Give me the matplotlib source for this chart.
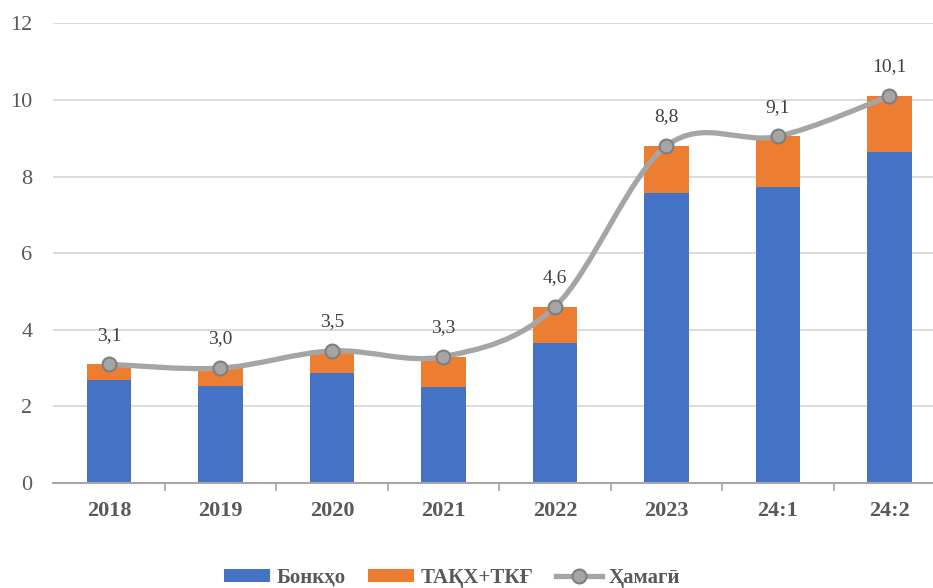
import matplotlib
matplotlib.use("Agg")
import matplotlib.pyplot as plt
from matplotlib.path import Path
from matplotlib.patches import PathPatch
from matplotlib.lines import Line2D
from matplotlib.patches import Patch
import numpy as np

categories = ["2018", "2019", "2020", "2021", "2022", "2023", "24:1", "24:2"]
banks = [2.69, 2.53, 2.87, 2.50, 3.65, 7.57, 7.73, 8.64]
others = [0.41, 0.47, 0.58, 0.80, 0.95, 1.23, 1.32, 1.46]
total = [3.1, 3.0, 3.45, 3.3, 4.6, 8.8, 9.05, 10.1]
total_labels = ["3,1", "3,0", "3,5", "3,3", "4,6", "8,8", "9,1", "10,1"]
yticks = [0, 2, 4, 6, 8, 10, 12]
legend_labels = ["Бонкҳо", "ТАҚХ+ТКҒ", "Ҳамагӣ"]

SERIF = ["Liberation Serif", "DejaVu Serif"]
plt.rcParams["font.family"] = SERIF

W, H = 933, 588
fig = plt.figure(figsize=(W / 100, H / 100), dpi=100)
left, right = 53.3, 945.0
top, bottom = 23.4, 483.0
ax = fig.add_axes([left / W, (H - bottom) / H, (right - left) / W, (bottom - top) / H])

x = np.arange(len(categories))
blue = "#4472C4"
orange = "#ED7D31"
gray = "#A5A5A5"

ax.bar(x, banks, width=0.40, color=blue, zorder=2)
ax.bar(x, others, width=0.40, bottom=banks, color=orange, zorder=2)

# smooth line (Catmull-Rom style Bezier through data points)
pts = np.column_stack([x, total]).astype(float)
n = len(pts)
verts = [pts[0]]
codes = [Path.MOVETO]
for i in range(n - 1):
    p0 = pts[i - 1] if i > 0 else pts[i]
    p1 = pts[i]
    p2 = pts[i + 1]
    p3 = pts[i + 2] if i + 2 < n else pts[i + 1]
    c1 = p1 + (p2 - p0) / 6.0
    c2 = p2 - (p3 - p1) / 6.0
    verts += [c1, c2, p2]
    codes += [Path.CURVE4] * 3
ax.add_patch(PathPatch(Path(verts, codes), facecolor="none", edgecolor=gray,
                       lw=3.8, zorder=3, capstyle="round", joinstyle="round"))
ax.plot(x, total, linestyle="none", marker="o", markersize=10,
        markerfacecolor=gray, markeredgecolor="#7F7F7F", markeredgewidth=1.5, zorder=4)

for xi, yi, lab in zip(x, total, total_labels):
    ax.annotate(lab, (xi, yi), xytext=(0, 21), textcoords="offset points",
                ha="center", va="center", fontsize=14, color="#404040")

ax.set_xlim(-0.5, len(categories) - 0.5)
ax.set_ylim(0, 12)
ax.set_yticks(yticks)
ax.set_yticklabels([str(t) for t in yticks], fontsize=16, color="#595959")
ax.set_xticks(x)
ax.set_xticklabels(categories, fontsize=16, fontweight="bold", color="#595959")
ax.set_xticks(np.arange(len(categories)) + 0.5, minor=True)
ax.tick_params(axis="x", which="major", length=0, pad=13)
ax.tick_params(axis="x", which="minor", length=6, color="#A6A6A6", width=1.2)
ax.tick_params(axis="y", length=0, pad=15)

ax.grid(axis="y", color="#D9D9D9", lw=1.3, zorder=0)
ax.set_axisbelow(True)
for s in ["top", "right", "left"]:
    ax.spines[s].set_visible(False)
ax.spines["bottom"].set_color("#A6A6A6")
ax.spines["bottom"].set_linewidth(1.5)

handles = [Patch(facecolor=blue), Patch(facecolor=orange),
           Line2D([0], [0], color=gray, lw=3.8, marker="o", markersize=10,
                  markerfacecolor=gray, markeredgecolor="#7F7F7F", markeredgewidth=1.5)]
leg = fig.legend(handles, legend_labels, loc="center", bbox_to_anchor=(452 / W, (H - 578) / H),
                 ncol=3, frameon=False, handlelength=2.2, handleheight=0.55, handletextpad=0.3,
                 columnspacing=1.1, borderpad=0, prop={"family": SERIF, "size": 15, "weight": "bold"})
for t in leg.get_texts():
    t.set_color("#595959")

fig.savefig("out.png", dpi=100)
